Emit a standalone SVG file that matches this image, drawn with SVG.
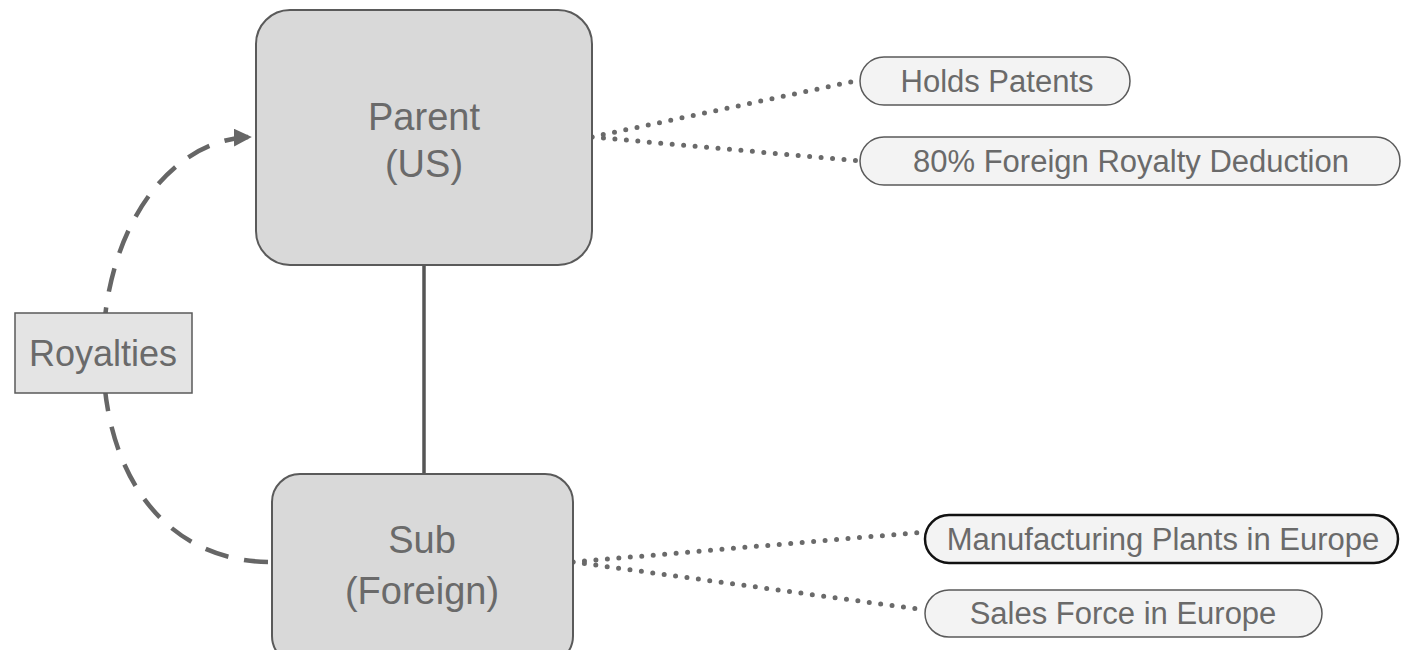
<svg xmlns="http://www.w3.org/2000/svg" width="1403" height="650" viewBox="0 0 1403 650">
  <defs>
    <style>
      .box { fill: #d9d9d9; stroke: #5a5a5a; stroke-width: 2; }
      .pill { fill: #f3f3f3; stroke: #5a5a5a; stroke-width: 1.5; }
      .pill-strong { fill: #f3f3f3; stroke: #111; stroke-width: 2.5; }
      .label { fill: #e4e4e4; stroke: #5a5a5a; stroke-width: 1.5; }
      .t { fill: #6a6a6a; text-anchor: middle; }
      .big { font-size: 38px; }
      .mid { font-size: 36px; }
      .small { font-size: 31px; }
      .dots { fill: none; stroke: #6a6a6a; stroke-width: 5; stroke-linecap: round; stroke-dasharray: 0 11.5; }
      .dash { fill: none; stroke: #666; stroke-width: 4.5; stroke-dasharray: 24 16; }
      .solid { fill: none; stroke: #555; stroke-width: 3.5; }
    </style>
    <marker id="arrow" viewBox="0 0 10 10" refX="9" refY="5" markerWidth="4" markerHeight="4" orient="auto" markerUnits="strokeWidth">
      <path d="M0,0 L10,5 L0,10 z" fill="#666"/>
    </marker>
  </defs>

  <rect width="1403" height="650" fill="#fff"/>

  <!-- connectors -->
  <g id="connectors">
    <line class="solid" x1="424" y1="265" x2="424" y2="474"/>
    <path class="dash" d="M268,562 C165,560 103,475 103,353 C103,235 165,140 250,137" marker-end="url(#arrow)"/>
    <line class="dots" x1="592" y1="137" x2="860" y2="80"/>
    <line class="dots" x1="592" y1="137" x2="860" y2="161"/>
    <line class="dots" x1="573" y1="562" x2="925" y2="532"/>
    <line class="dots" x1="573" y1="562" x2="925" y2="610"/>
  </g>

  <g font-family="Liberation Sans, Arial, Helvetica, sans-serif">
    <g id="parent">
      <rect class="box" x="256" y="10" width="336" height="255" rx="34" ry="34"/>
      <text class="t big" x="424" y="130">Parent</text>
      <text class="t big" x="424" y="177">(US)</text>
    </g>

    <g id="sub">
      <rect class="box" x="272" y="474" width="301" height="190" rx="28" ry="28"/>
      <text class="t big" x="422" y="553">Sub</text>
      <text class="t big" x="422" y="604">(Foreign)</text>
    </g>

    <g id="royalties">
      <rect class="label" x="15" y="313" width="177" height="80"/>
      <text class="t mid" x="103" y="366">Royalties</text>
    </g>

    <g id="holds-patents">
      <rect class="pill" x="860" y="57" width="270" height="48" rx="24" ry="24"/>
      <text class="t small" x="997" y="92">Holds Patents</text>
    </g>

    <g id="royalty-deduction">
      <rect class="pill" x="860" y="137" width="540" height="48" rx="24" ry="24"/>
      <text class="t small" x="1131" y="172">80% Foreign Royalty Deduction</text>
    </g>

    <g id="manufacturing">
      <rect class="pill-strong" x="925" y="515" width="473" height="48" rx="24" ry="24"/>
      <text class="t small" x="1163" y="550">Manufacturing Plants in Europe</text>
    </g>

    <g id="sales">
      <rect class="pill" x="925" y="590" width="397" height="47" rx="24" ry="24"/>
      <text class="t small" x="1123" y="624">Sales Force in Europe</text>
    </g>
  </g>
</svg>
